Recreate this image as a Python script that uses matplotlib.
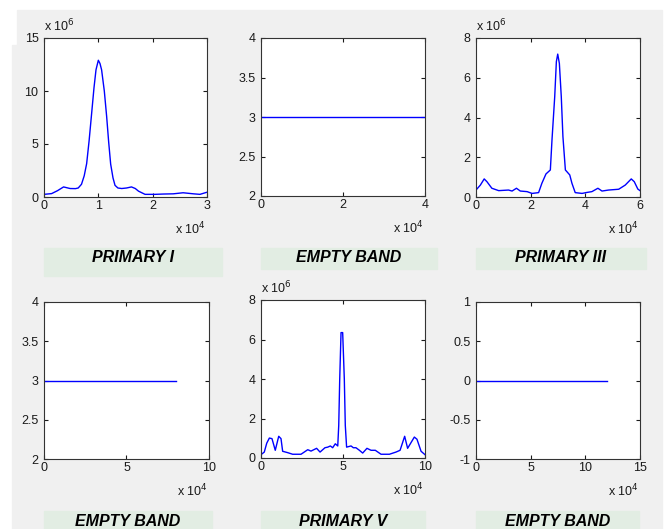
import numpy as np
import matplotlib
matplotlib.use("Agg")
import matplotlib.pyplot as plt
from matplotlib.patches import Rectangle

plt.rcParams['font.family'] = ['Liberation Sans', 'DejaVu Sans']

W, H = 666, 529

titles = ["PRIMARY I", "EMPTY BAND", "PRIMARY III",
          "EMPTY BAND", "PRIMARY V", "EMPTY BAND"]

# primary I  (y in units of 1e6)
p1_x = [0, 1400, 2500, 3600, 4800, 5800, 6300, 6900, 7400, 7850, 8300, 8770,
        9200, 9570, 10000, 10300, 10600, 11100, 11530, 11900, 12270, 12700,
        13070, 13600, 14300, 15200, 16100, 16800, 17400, 18600, 20400, 22000,
        23800, 25600, 27500, 28700, 30000]
p1_y = [0.25, 0.32, 0.6, 0.95, 0.8, 0.79, 0.85, 1.2, 2.0, 3.15, 5.3, 7.9,
        10.3, 12.0, 12.9, 12.6, 12.0, 10.0, 7.6, 5.2, 3.1, 1.8,
        1.1, 0.85, 0.8, 0.85, 0.95, 0.8, 0.55, 0.25, 0.25, 0.28,
        0.3, 0.4, 0.3, 0.25, 0.45]

# empty band II
p2_x = [0, 40000]
p2_y = [3, 3]

# primary III  (y in units of 1e6)
p3_x = [0, 1600, 3000, 4000, 5800, 8300, 11900, 13200, 14800, 16200, 18700,
        20500, 22900, 24100, 25600, 27200, 27800, 28800, 29400, 29900, 30500,
        31200, 31800, 32700, 34300, 35100, 36300, 38800, 40600, 42400, 44600,
        46100, 48500, 52200, 54600, 56800, 57900, 59200, 60000]
p3_y = [0.35, 0.6, 0.91, 0.77, 0.44, 0.32, 0.35, 0.3, 0.44, 0.3, 0.27,
        0.18, 0.22, 0.69, 1.16, 1.36, 2.87, 5.05, 6.81, 7.19, 6.72,
        5.05, 3.04, 1.36, 1.11, 0.69, 0.22, 0.18, 0.23, 0.27, 0.44,
        0.3, 0.35, 0.39, 0.6, 0.91, 0.77, 0.4, 0.32]

# empty band IV
p4_x = [0, 80000]
p4_y = [3, 3]

# primary V  (y in units of 1e6)
p5_x = [0, 2000, 3500, 5100, 6700, 8700, 10800, 12200, 13200, 16300, 19300,
        24400, 28500, 30500, 33900, 36000, 39000, 40700, 42300, 43700, 45300,
        46800, 47400, 48000, 48800, 49800, 50800, 51400, 52200, 54900, 56300,
        57900, 60000, 62000, 64600, 67100, 69700, 73200, 78300, 82300, 84800,
        87600, 89400, 93500, 95100, 97600, 100000]
p5_y = [0.17, 0.3, 0.75, 1.01, 0.98, 0.39, 1.1, 0.98, 0.34, 0.27, 0.19,
        0.19, 0.42, 0.35, 0.49, 0.3, 0.52, 0.55, 0.61, 0.52, 0.72,
        0.61, 1.65, 4.0, 6.35, 6.35, 4.0, 1.65, 0.55, 0.61, 0.52,
        0.52, 0.39, 0.25, 0.49, 0.39, 0.39, 0.19, 0.19, 0.3, 0.39,
        1.1, 0.49, 1.06, 0.95, 0.34, 0.17]

# empty band VI
p6_x = [0, 120000]
p6_y = [0, 0]

series = [(p1_x, p1_y), (p2_x, p2_y), (p3_x, p3_y),
          (p4_x, p4_y), (p5_x, p5_y), (p6_x, p6_y)]

xlims = [(0, 3), (0, 4), (0, 6), (0, 10), (0, 10), (0, 15)]
xticks = [[0, 1, 2, 3], [0, 2, 4], [0, 2, 4, 6], [0, 5, 10], [0, 5, 10], [0, 5, 10, 15]]
ylims = [(0, 15), (2, 4), (0, 8), (2, 4), (0, 8), (-1, 1)]
yticks = [[0, 5, 10, 15], [2, 2.5, 3, 3.5, 4], [0, 2, 4, 6, 8],
          [2, 2.5, 3, 3.5, 4], [0, 2, 4, 6, 8], [-1, -0.5, 0, 0.5, 1]]
has_mult = [True, False, True, False, True, False]

# pixel boxes (left, right, top, bottom)
ax_px = [(44, 207, 38, 197), (261, 425, 38, 196), (476, 640, 38, 197),
         (44, 209, 302, 459), (261, 425, 300, 458), (476, 640, 302, 459)]
lab_px = [(44, 222, 248, 276), (261, 437, 248, 269), (476, 646, 248, 269),
          (44, 212, 511, 529), (261, 425, 511, 529), (476, 639, 511, 529)]


def fx(px):
    return px / W


def fy(py):
    return 1 - py / H


fig = plt.figure(figsize=(W / 100, H / 100), dpi=100)
fig.patch.set_facecolor('white')
fig.patches.append(Rectangle((fx(17), fy(45)), fx(662) - fx(17), fy(10) - fy(45),
                             transform=fig.transFigure, color='#F0F0F0', zorder=-2))
fig.patches.append(Rectangle((fx(12), fy(529)), fx(662) - fx(12), fy(45) - fy(529),
                             transform=fig.transFigure, color='#F0F0F0', zorder=-2))

for i in range(6):
    l, r, t, b = ax_px[i]
    ax = fig.add_axes([fx(l), fy(b), fx(r) - fx(l), fy(t) - fy(b)])
    xs, ys = series[i]
    ax.plot(np.array(xs) / 1e4, ys, color='#0000FF', lw=1.0)
    ax.set_xlim(*xlims[i])
    ax.set_ylim(*ylims[i])
    ax.set_xticks(xticks[i])
    ax.set_yticks(yticks[i])
    ax.set_xticklabels([f"{v:g}" for v in xticks[i]])
    ax.set_yticklabels([f"{v:g}" for v in yticks[i]])
    ax.tick_params(direction='in', top=True, right=True, length=3, width=0.8,
                   labelsize=9, colors='#1a1a1a', pad=2)
    ax.tick_params(axis='y', pad=4)
    for s in ax.spines.values():
        s.set_color('#333333')
        s.set_linewidth(0.8)
    # multipliers
    if has_mult[i]:
        fig.text(fx(l), fy(t - 4), r'x 10$^{6}$', fontsize=9, color='#1a1a1a',
                 ha='left', va='bottom')
    fig.text(fx(r - 1), fy(b + 32), r'x 10$^{4}$', fontsize=9, color='#1a1a1a',
             ha='right', va='center')
    # label box
    bl, br, bt, bb = lab_px[i]
    fig.patches.append(Rectangle((fx(bl), fy(bb)), fx(br) - fx(bl), fy(bt) - fy(bb),
                                 transform=fig.transFigure, color='#E2EDE3', zorder=-1))
    ty = 257 if i < 3 else 521
    fig.text(fx((bl + br) / 2), fy(ty), titles[i], fontsize=11.5, fontweight='bold',
             fontstyle='italic', color='black', ha='center', va='center')

fig.savefig('out.png', dpi=100, facecolor=fig.get_facecolor())
